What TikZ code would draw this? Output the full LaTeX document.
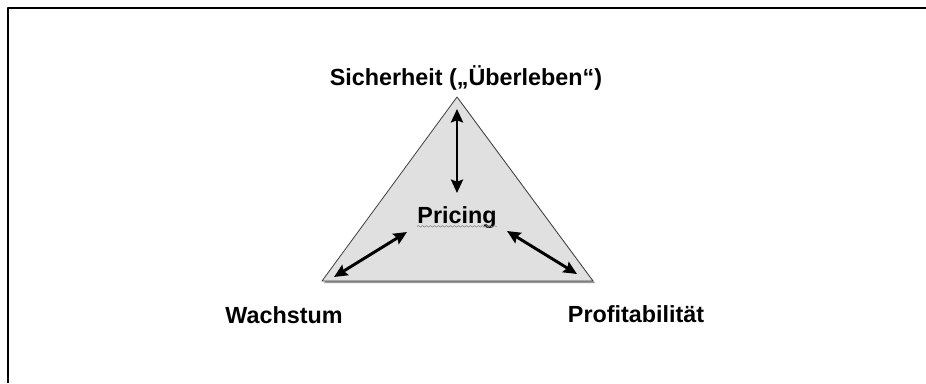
\documentclass[tikz,border=0pt]{standalone}
\usepackage{fontspec}
\setmainfont{Liberation Sans}
\usetikzlibrary{arrows.meta,decorations.pathmorphing}
\begin{document}
\begin{tikzpicture}[x=0.75pt, y=-0.75pt, font=\fontsize{17.5}{21}\selectfont\bfseries, line join=round, line cap=round, >={Stealth[length=10pt,width=9pt,inset=1.5pt]}]
	\def\W{926} \def\H{383} % Bildgröße
	\tikzset{pfeil/.style={<->, line width=2.2pt}, label/.style={anchor=base, inner sep=0pt}}
	\useasboundingbox (0,0) rectangle (\W,\H);
	% Rahmen
	\draw[line width=2pt, line cap=butt] (8,\H)--(8,8)--(\W,8);
	% Dreieck
	\coordinate (L) at (322,281); \coordinate (R) at (593,281); \coordinate (T) at (457,97);
	\fill[black!40] ([shift={(2,2)}]L)--([shift={(2,2)}]R)--([shift={(2,2)}]T)--cycle;
	\filldraw[fill=black!12, draw=black!75, line width=0.6pt] (L)--(R)--(T)--cycle;
	% Beschriftungen
	\node[label] (sicher) at (466,85) {Sicherheit („Überleben“)};
	\node[label] (pricing) at (457,223) {Pricing};
	\node[label] (wachstum) at (284,323) {Wachstum};
	\node[label] (profit) at (636,322) {Profitabilität};
	\draw[black!45, line width=0.5pt, decorate, decoration={snake, amplitude=0.6pt, segment length=3pt}] ([yshift=-2.5pt]pricing.base west)--([yshift=-2.5pt]pricing.base east);
	% Pfeile
	\coordinate (a1) at (457,109); \coordinate (a2) at (457,193);
	\coordinate (b1) at (334,277); \coordinate (b2) at (407,232);
	\coordinate (c1) at (507,231); \coordinate (c2) at (577,274);
	\draw[pfeil] (a1)--(a2);
	\draw[pfeil] (b1)--(b2);
	\draw[pfeil] (c1)--(c2);
\end{tikzpicture}
\end{document}
